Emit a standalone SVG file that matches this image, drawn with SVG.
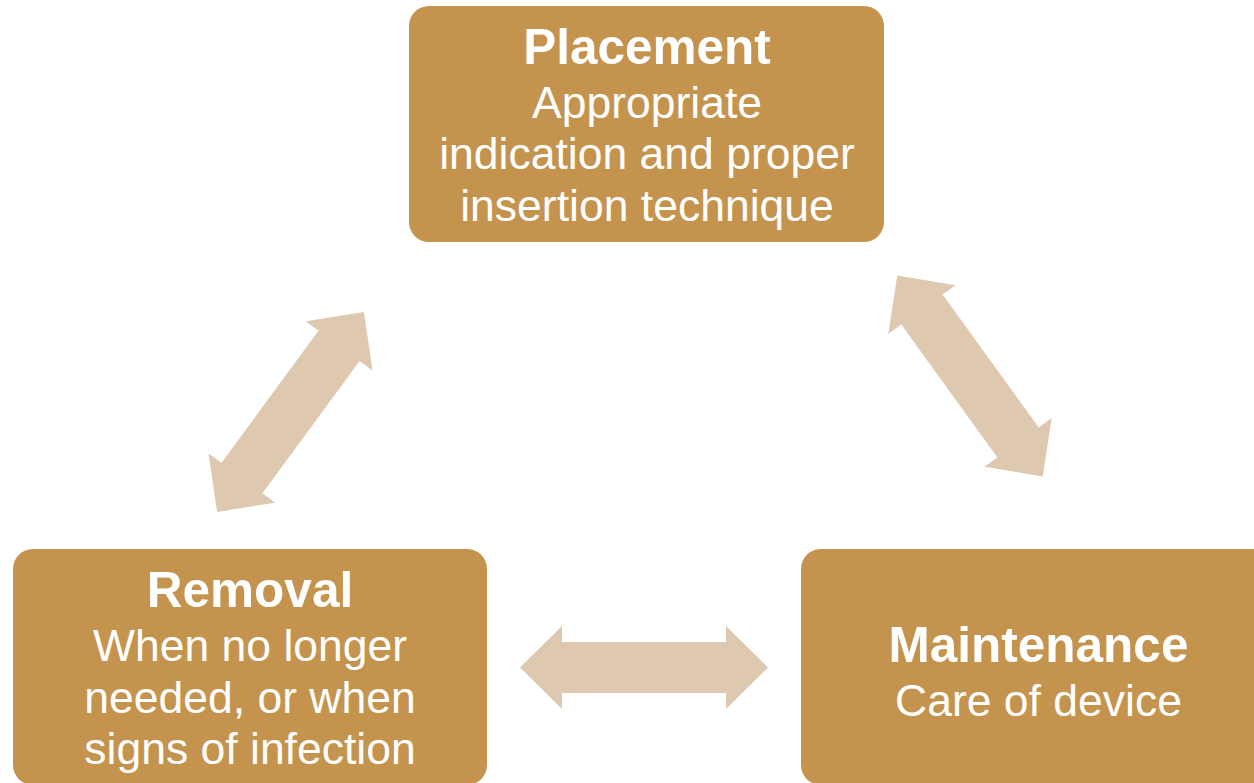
<svg xmlns="http://www.w3.org/2000/svg" width="1254" height="783" viewBox="0 0 1254 783">
<style>
.box{fill:#c4944e}
.arr{fill:#dfc8b0}
.t{font-family:"Liberation Sans",Arial,Helvetica,sans-serif;fill:#ffffff;text-anchor:middle}
.b{font-weight:bold;font-size:49.5px}
.r{font-size:44.5px}
</style>
<defs>
<polygon id="dbl" points="-124,0 -82,-41.5 -82,-25.5 82,-25.5 82,-41.5 124,0 82,41.5 82,25.5 -82,25.5 -82,41.5"/>
</defs>
<rect width="1254" height="783" fill="#ffffff"/>
<g id="connectors">
<use href="#dbl" class="arr" transform="translate(290.5,412) rotate(-53.7)"/>
<use href="#dbl" class="arr" transform="translate(970,376) rotate(54.1)"/>
<use href="#dbl" class="arr" transform="translate(644,667.5)"/>
</g>
<g id="placement">
<rect class="box" x="409" y="6" width="475" height="236" rx="20" ry="20"/>
<text class="t b" x="647" y="64">Placement</text>
<text class="t r" x="647" y="118">Appropriate</text>
<text class="t r" x="647" y="169">indication and proper</text>
<text class="t r" x="647" y="221">insertion technique</text>
</g>
<g id="removal">
<rect class="box" x="13" y="549" width="474" height="236" rx="20" ry="20"/>
<text class="t b" x="250" y="607">Removal</text>
<text class="t r" x="250" y="661">When no longer</text>
<text class="t r" x="250" y="713">needed, or when</text>
<text class="t r" x="250" y="764">signs of infection</text>
</g>
<g id="maintenance">
<rect class="box" x="801" y="549" width="475" height="236" rx="20" ry="20"/>
<text class="t b" x="1038.5" y="662">Maintenance</text>
<text class="t r" x="1038.5" y="716">Care of device</text>
</g>
</svg>
